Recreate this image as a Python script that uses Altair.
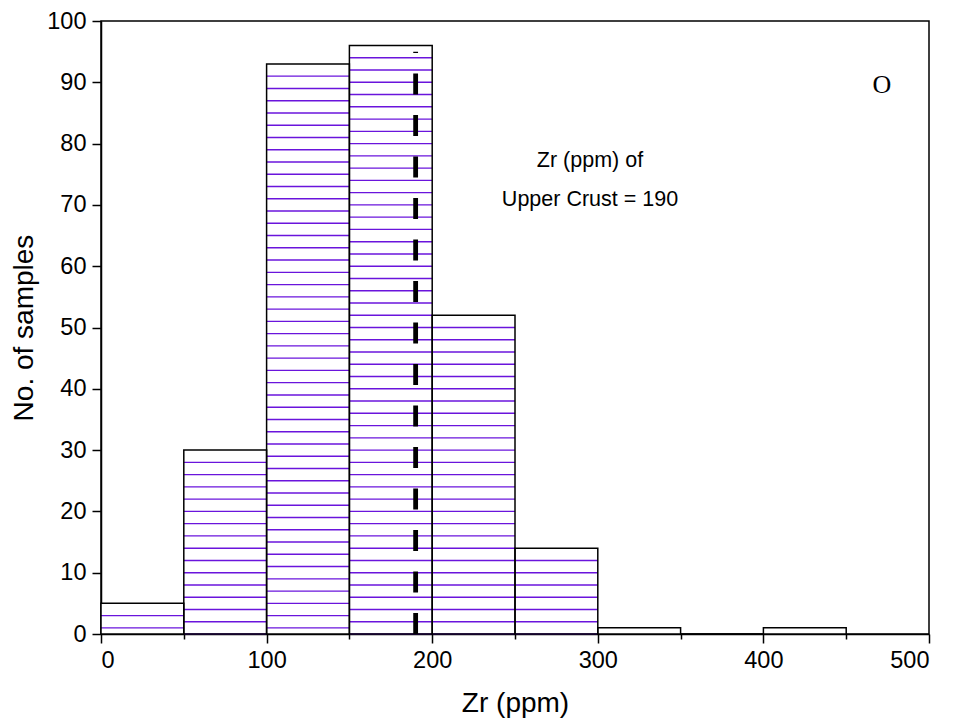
import altair as alt
import pandas as pd

# Zr histogram bins (ppm) and sample counts
bin_start = [0, 50, 100, 150, 200, 250, 300, 350, 400]
bin_end = [50, 100, 150, 200, 250, 300, 350, 400, 450]
counts = [5, 30, 93, 96, 52, 14, 1, 0, 1]

# Upper continental crust reference value
crust_zr = 190
crust_line_top = 95

# horizontal hatch spacing, in samples
hatch_step = 2

FONT = "Liberation Sans"

bars = pd.DataFrame({"start": bin_start, "end": bin_end, "count": counts})

hatch_rows = []
for s, e, c in zip(bin_start, bin_end, counts):
    level = c - hatch_step
    while level >= 0:
        hatch_rows.append({"start": s, "end": e, "level": level})
        level -= hatch_step
hatch = pd.DataFrame(hatch_rows)

x_scale = alt.Scale(domain=[0, 500], nice=False)
y_scale = alt.Scale(domain=[0, 100], nice=False)

x_axis = alt.Axis(
    title="Zr (ppm)",
    values=list(range(0, 501, 50)),
    labelExpr="datum.value % 100 === 0 ? datum.label : ''",
    labelOverlap=False,
    tickSize={"condition": {"test": "datum.value % 100 === 0", "value": 9}, "value": 5},
    grid=False,
    labelFontSize=23.5,
    titleFontSize=28,
    labelPadding=5,
    titlePadding=18,
)
y_axis = alt.Axis(
    title="No. of samples",
    values=list(range(0, 101, 5)),
    labelExpr="datum.value % 10 === 0 ? datum.label : ''",
    labelOverlap=False,
    tickSize={"condition": {"test": "datum.value % 10 === 0", "value": 9}, "value": 5},
    grid=False,
    labelFontSize=23.5,
    titleFontSize=28,
    labelPadding=6,
    titlePadding=8,
)

base = alt.Chart(bars)

fill = base.mark_rect(fill="white", stroke=None).encode(
    x=alt.X("start:Q", scale=x_scale, axis=x_axis),
    x2="end:Q",
    y=alt.Y("count:Q", scale=y_scale, axis=y_axis),
    y2=alt.datum(0),
)

hatch_lines = alt.Chart(hatch).mark_rule(color="#6a14dc", strokeWidth=1.4).encode(
    x=alt.X("start:Q", scale=x_scale),
    x2="end:Q",
    y=alt.Y("level:Q", scale=y_scale),
)

outline = base.mark_rect(fillOpacity=0, stroke="black", strokeWidth=1.5).encode(
    x=alt.X("start:Q", scale=x_scale),
    x2="end:Q",
    y=alt.Y("count:Q", scale=y_scale),
    y2=alt.datum(0),
)

crust_line = alt.Chart(pd.DataFrame({"zr": [crust_zr], "top": [crust_line_top]})).mark_rule(
    color="black", strokeWidth=4.8, strokeDash=[21, 20.5]
).encode(
    x=alt.X("zr:Q", scale=x_scale),
    y=alt.Y("bottom:Q", scale=y_scale),
    y2="top:Q",
).transform_calculate(bottom="0")

note = alt.Chart(pd.DataFrame({"line": ["Zr (ppm) of", "Upper Crust = 190"], "ypos": [140, 179]})).mark_text(
    font=FONT, fontSize=21.5, color="black", align="center", baseline="middle"
).encode(
    x=alt.value(489),
    y=alt.Y("ypos:Q", scale=None),
    text="line:N",
)

panel_tag = alt.Chart(pd.DataFrame({"tag": ["O"]})).mark_text(
    font="Liberation Serif", fontSize=26, color="black", align="center", baseline="middle"
).encode(x=alt.value(781), y=alt.value(64), text="tag:N")

chart = (
    alt.layer(fill, hatch_lines, outline, crust_line, note, panel_tag)
    .properties(
        width=828,
        height=613,
        autosize=alt.AutoSizeParams(type="none"),
        padding={"left": 101, "top": 21, "right": 26, "bottom": 91},
        background="white",
    )
    .configure_view(stroke="black", strokeWidth=1.5)
    .configure_axis(
        domainColor="black",
        domainWidth=1.5,
        tickColor="black",
        tickWidth=1.5,
        labelFont=FONT,
        titleFont=FONT,
        labelColor="black",
        titleColor="black",
        titleFontWeight="normal",
    )
)

chart.save("out.html", embed_options={"renderer": "svg", "actions": False})
